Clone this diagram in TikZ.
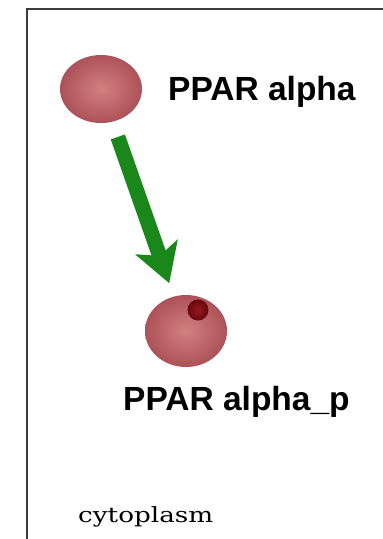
\documentclass[tikz,border=0pt]{standalone}
\usepackage{fontspec}
\setsansfont{Liberation Sans}
\newfontfamily\cellfont[FakeStretch=1.25]{DejaVu Serif}
\usetikzlibrary{arrows.meta,shapes.geometric}

\definecolor{protein}{RGB}{210,128,128}
\definecolor{proteinedge}{RGB}{172,82,88}
\definecolor{phospho}{RGB}{150,25,30}
\definecolor{phosphoedge}{RGB}{100,8,12}
\definecolor{react}{RGB}{25,135,25}
\definecolor{frame}{RGB}{60,60,60}

\begin{document}
\begin{tikzpicture}
	  [x=1pt,y=-1pt,
	   mol/.style={ellipse,inner sep=0pt,minimum width=82pt,minimum height=68pt,
	     inner color=protein,outer color=proteinedge},
	   site/.style={circle,inner sep=0pt,minimum size=21pt,
	     inner color=phospho,outer color=phosphoedge},
	   pname/.style={anchor=base west,inner sep=0pt,
	     font=\sffamily\bfseries\fontsize{33.5}{36}\selectfont}]
	\fill[white] (0,0) rectangle (383,539);
	\useasboundingbox (0,0) rectangle (383,539);

	% compartment border
	\draw[frame,line width=2pt] (383,9) -- (27,9) -- (27,539);

	\node[mol] (n1) at (101,89)  {};
	\node[mol,minimum height=72pt] (n2) at (186,331) {};
	\node[site] (n2p) at (198,310) {};

	\node[pname] (l1) at (168,100) {PPAR alpha};
	\node[pname] (l2) at (123,410) {PPAR alpha\_p};
	\node[anchor=base west,inner sep=0pt,font=\cellfont\fontsize{21}{24}\selectfont]
	  (cyto) at (78,522) {cytoplasm};

	\draw[react,line width=15pt,shorten <=16pt,shorten >=14pt,
	  -{Stealth[length=38pt,width=44pt,inset=9pt]}] (n1) -- (n2);
\end{tikzpicture}
\end{document}
